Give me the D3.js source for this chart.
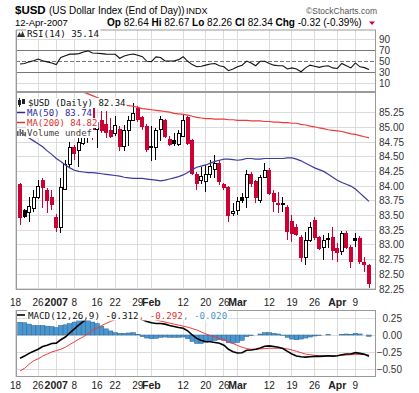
<!DOCTYPE html>
<html>
<head>
<meta charset="utf-8">
<script src="https://cdn.jsdelivr.net/npm/d3@7"></script>
<style>
  body { margin: 0; background: #fff; }
  svg text { font-family: "Liberation Sans", Arial, sans-serif; }
  svg text.mono { font-family: "DejaVu Sans Mono", monospace; }
</style>
</head>
<body>
<div id="chart"></div>
<script>
// Trading sessions on the chart (Dec 25, Jan 1, Jan 15, Feb 19 and Apr 6 have no bar)
const days = [
  "2006-12-19","2006-12-20","2006-12-21","2006-12-22","2006-12-26","2006-12-27","2006-12-28","2006-12-29",
  "2007-01-02","2007-01-03","2007-01-04","2007-01-05","2007-01-08","2007-01-09","2007-01-10","2007-01-11","2007-01-12",
  "2007-01-16","2007-01-17","2007-01-18","2007-01-19","2007-01-22","2007-01-23","2007-01-24","2007-01-25","2007-01-26",
  "2007-01-29","2007-01-30","2007-01-31","2007-02-01","2007-02-02","2007-02-05","2007-02-06","2007-02-07","2007-02-08",
  "2007-02-09","2007-02-12","2007-02-13","2007-02-14","2007-02-15","2007-02-16","2007-02-20","2007-02-21","2007-02-22",
  "2007-02-23","2007-02-26","2007-02-27","2007-02-28","2007-03-01","2007-03-02","2007-03-05","2007-03-06","2007-03-07",
  "2007-03-08","2007-03-09","2007-03-12","2007-03-13","2007-03-14","2007-03-15","2007-03-16","2007-03-19","2007-03-20",
  "2007-03-21","2007-03-22","2007-03-23","2007-03-26","2007-03-27","2007-03-28","2007-03-29","2007-03-30","2007-04-02",
  "2007-04-03","2007-04-04","2007-04-05","2007-04-09","2007-04-10","2007-04-11","2007-04-12"
];

const opens = [
  84.02, 83.58, 83.55, 83.61, 83.81, 84.10, 83.93, 83.81, 83.47, 83.29,
  83.95, 84.36, 84.66, 84.61, 84.73, 85.04, 85.33, 84.96, 85.11, 85.05,
  84.94, 84.90, 84.96, 84.68, 84.94, 85.12, 85.33, 85.16, 85.02, 84.68,
  84.65, 84.96, 85.11, 84.79, 84.78, 84.70, 84.85, 85.16, 84.77, 84.19,
  84.10, 84.07, 84.19, 84.28, 84.39, 84.02, 83.97, 83.53, 83.59, 83.81,
  83.80, 84.19, 84.07, 83.76, 84.15, 84.27, 83.88, 83.71, 83.71, 83.64,
  83.39, 83.30, 83.13, 82.78, 83.08, 83.42, 83.12, 82.96, 83.10, 83.13,
  82.94, 82.88, 83.20, 82.96, 83.10, 83.11, 82.70, 82.64
];
const highs = [
  84.05, 83.61, 83.81, 83.93, 84.10, 84.14, 83.97, 83.93, 83.52, 84.14,
  84.44, 84.75, 84.70, 84.82, 84.99, 85.36, 85.36, 85.16, 85.28, 85.28,
  85.16, 85.19, 85.02, 85.04, 85.19, 85.42, 85.36, 85.19, 85.06, 85.02,
  84.99, 85.19, 85.14, 84.85, 84.90, 84.96, 85.21, 85.19, 84.80, 84.24,
  84.32, 84.36, 84.44, 84.53, 84.44, 84.05, 84.00, 83.71, 83.81, 83.88,
  84.27, 84.24, 84.10, 84.19, 84.39, 84.31, 83.93, 83.90, 83.81, 83.68,
  83.51, 83.36, 83.17, 83.22, 83.39, 83.47, 83.15, 83.17, 83.20, 83.30,
  83.03, 83.23, 83.23, 83.00, 83.20, 83.15, 82.79, 82.67
];
const lows = [
  83.34, 83.45, 83.39, 83.56, 83.78, 83.63, 83.54, 83.59, 83.22, 83.20,
  83.93, 84.32, 84.44, 84.32, 84.70, 84.73, 84.78, 84.65, 84.90, 84.82,
  84.82, 84.85, 84.60, 84.60, 84.68, 85.11, 85.10, 84.96, 84.58, 84.43,
  84.44, 84.77, 84.82, 84.68, 84.68, 84.68, 84.83, 84.70, 84.19, 83.93,
  84.03, 83.90, 84.14, 84.14, 84.02, 83.93, 83.39, 83.49, 83.51, 83.71,
  83.63, 83.99, 83.71, 83.71, 84.14, 83.85, 83.56, 83.54, 83.56, 83.08,
  83.05, 83.15, 82.71, 82.66, 83.05, 83.08, 82.91, 82.74, 82.94, 82.74,
  82.71, 82.83, 82.92, 82.60, 82.96, 82.67, 82.53, 82.26
];
const closes = [
  83.47, 83.49, 83.65, 83.81, 84.00, 83.98, 83.76, 83.68, 83.29, 83.97,
  84.36, 84.66, 84.56, 84.75, 84.92, 85.30, 84.96, 85.08, 84.94, 84.92,
  84.85, 85.04, 84.68, 84.95, 85.12, 85.24, 85.13, 85.02, 84.62, 84.65,
  84.94, 85.13, 84.85, 84.70, 84.73, 84.90, 85.11, 84.73, 84.22, 84.05,
  84.17, 84.19, 84.34, 84.39, 84.07, 83.97, 83.50, 83.56, 83.73, 83.75,
  84.19, 84.05, 83.80, 84.14, 84.27, 83.88, 83.73, 83.68, 83.69, 83.22,
  83.20, 83.18, 82.78, 83.08, 83.30, 83.12, 82.94, 83.08, 83.09, 82.91,
  82.86, 83.20, 82.96, 82.71, 83.08, 82.71, 82.66, 82.34
];

const ma50 = [
  84.92, 84.87, 84.82, 84.77, 84.72, 84.67, 84.60, 84.54, 84.47, 84.42,
  84.36, 84.31, 84.27, 84.25, 84.24, 84.23, 84.23, 84.22, 84.21, 84.20,
  84.19, 84.18, 84.17, 84.15, 84.14, 84.13, 84.13, 84.13, 84.12, 84.11,
  84.10, 84.09, 84.10, 84.12, 84.14, 84.16, 84.19, 84.23, 84.28, 84.32,
  84.34, 84.36, 84.39, 84.42, 84.44, 84.46, 84.46, 84.45, 84.44, 84.45,
  84.47, 84.47, 84.46, 84.46, 84.47, 84.47, 84.47, 84.47, 84.47, 84.48,
  84.48, 84.46, 84.43, 84.39, 84.35, 84.31, 84.28, 84.25, 84.20, 84.15,
  84.10, 84.06, 84.03, 84.00, 83.95, 83.88, 83.81, 83.74
];
const ma200 = [
  85.95, 85.93, 85.91, 85.89, 85.87, 85.85, 85.83, 85.81, 85.78, 85.75,
  85.72, 85.69, 85.66, 85.63, 85.60, 85.57, 85.54, 85.51, 85.48, 85.46,
  85.44, 85.42, 85.40, 85.38, 85.37, 85.36, 85.34, 85.32, 85.31, 85.30,
  85.29, 85.28, 85.27, 85.26, 85.24, 85.23, 85.22, 85.21, 85.19, 85.17,
  85.16, 85.15, 85.15, 85.14, 85.14, 85.14, 85.13, 85.13, 85.12, 85.12,
  85.12, 85.11, 85.11, 85.11, 85.10, 85.10, 85.09, 85.09, 85.08, 85.08,
  85.07, 85.07, 85.05, 85.04, 85.02, 85.01, 84.99, 84.98, 84.96, 84.95,
  84.94, 84.93, 84.91, 84.89, 84.88, 84.86, 84.84, 84.82
];

const rsi = [
  45, 46, 49, 51, 54, 51, 49, 47, 44, 57,
  60, 63, 63, 64, 67, 69, 65, 64.5, 64, 63,
  62.7, 62.7, 55.5, 59.6, 62, 63.3, 61, 58.4, 50, 49.3,
  58, 57, 50.5, 50.5, 50.5, 53, 58.4, 50, 44, 40.2,
  41, 43, 45, 46, 42, 40, 33, 36, 40, 43,
  50.5, 47, 42, 50, 50, 46, 43, 42, 42, 36,
  38, 36, 31, 38, 43, 41, 39, 41, 42, 38,
  37, 46, 42, 38, 47, 40, 38.5, 35.14
];

const macd = [
  -0.343, -0.31, -0.27, -0.24, -0.21, -0.17, -0.15, -0.125, -0.12, -0.07,
  -0.03, 0.03, 0.09, 0.15, 0.20, 0.24, 0.26, 0.27, 0.27, 0.26,
  0.26, 0.26, 0.255, 0.26, 0.27, 0.28, 0.26, 0.225, 0.20, 0.18,
  0.17, 0.17, 0.16, 0.14, 0.125, 0.11, 0.10, 0.06, 0.0, -0.05,
  -0.08, -0.095, -0.10, -0.11, -0.12, -0.15, -0.21, -0.245, -0.265, -0.26,
  -0.225, -0.22, -0.21, -0.19, -0.165, -0.16, -0.17, -0.18, -0.20, -0.24,
  -0.28, -0.31, -0.32, -0.325, -0.32, -0.315, -0.315, -0.31, -0.305, -0.31,
  -0.305, -0.29, -0.28, -0.28, -0.26, -0.27, -0.285, -0.312
];
const signal = [
  -0.53, -0.49, -0.43, -0.38, -0.35, -0.31, -0.28, -0.25, -0.23, -0.21,
  -0.18, -0.14, -0.10, -0.06, -0.025, 0.02, 0.07, 0.10, 0.14, 0.17,
  0.20, 0.225, 0.23, 0.235, 0.24, 0.245, 0.25, 0.25, 0.245, 0.235,
  0.22, 0.205, 0.19, 0.175, 0.16, 0.145, 0.13, 0.115, 0.095, 0.075,
  0.045, 0.015, -0.01, -0.03, -0.05, -0.07, -0.095, -0.125, -0.155, -0.18,
  -0.20, -0.21, -0.21, -0.205, -0.20, -0.195, -0.195, -0.195, -0.195, -0.205,
  -0.22, -0.24, -0.26, -0.28, -0.29, -0.30, -0.305, -0.31, -0.31, -0.31,
  -0.305, -0.30, -0.295, -0.29, -0.285, -0.285, -0.285, -0.292
];

const priceTicks = [82.25, 82.5, 82.75, 83, 83.25, 83.5, 83.75, 84, 84.25, 84.5, 84.75, 85, 85.25];
const rsiTicks = [10, 30, 50, 70, 90];
const macdTicks = [0.25, 0, -0.25, -0.5];

const tickDates = ["2006-12-18","2006-12-26","2007-01-02","2007-01-08","2007-01-16","2007-01-22","2007-01-29",
  "2007-02-01","2007-02-12","2007-02-20","2007-02-26","2007-03-01","2007-03-12","2007-03-19","2007-03-26",
  "2007-04-02","2007-04-09"];
const tickLabels = ["18","26","2007","8","16","22","29","Feb","12","20","26","Mar","12","19","26","Apr","9"];
const tickBold = [false,false,true,false,false,false,false,true,false,false,false,true,false,false,false,true,false];

const quoteLabels = ["Op", "Hi", "Lo", "Cl", "Chg"];
const quoteValues = ["82.64", "82.67", "82.26", "82.34", "-0.32 (-0.39%)"];

// ---------------------------------------------------------------
const W = 419, H = 393;
const plotL = 16, plotR = 376;
const rsiBox = {top: 29.5, bottom: 92};
const priceBox = {top: 92, bottom: 290};
const macdBox = {top: 310, bottom: 377};
const RED = "#cc0033";
const GRID = "#dcdcdc";

const svg = d3.select("#chart").append("svg")
  .attr("width", W).attr("height", H)
  .style("display", "block");

const x = d3.scalePoint().domain(days).range([20, 369]);
// a tick dated before the first session sits one step left of it
const tickX = d => days.includes(d) ? x(d) : x(days[0]) - x.step();

const y = d3.scaleLinear().domain([82.25, 85.25]).range([288.8, 112.7]);
const yRsi = d3.scaleLinear().domain([10, 90]).range([83.3, 39.3]);
const yMacd = d3.scaleLinear().domain([-0.5, 0.25]).range([369, 318]);

// clip each panel
const defs = svg.append("defs");
[["clip-rsi", rsiBox], ["clip-price", priceBox], ["clip-macd", macdBox]].forEach(([id, b]) => {
  defs.append("clipPath").attr("id", id).append("rect")
    .attr("x", plotL).attr("y", b.top)
    .attr("width", plotR - plotL).attr("height", b.bottom - b.top);
});

function drawGrid(box, yScale, values) {
  const g = svg.append("g").attr("shape-rendering", "crispEdges");
  g.selectAll("line.v").data(tickDates).join("line")
    .attr("class", "v")
    .attr("x1", d => tickX(d)).attr("x2", d => tickX(d))
    .attr("y1", box.top).attr("y2", box.bottom)
    .attr("stroke", GRID);
  g.selectAll("line.h").data(values).join("line")
    .attr("class", "h")
    .attr("x1", plotL).attr("x2", plotR)
    .attr("y1", d => yScale(d)).attr("y2", d => yScale(d))
    .attr("stroke", GRID);
}

function drawBorder(box) {
  svg.append("rect")
    .attr("x", plotL + 0.5).attr("y", box.top + 0.5)
    .attr("width", plotR - plotL - 1).attr("height", box.bottom - box.top - 1)
    .attr("fill", "none").attr("stroke", "#9a9a9a");
}

function drawDateLabels(yBase) {
  svg.append("g").selectAll("text").data(tickDates).join("text")
    .attr("x", d => tickX(d)).attr("y", yBase)
    .attr("text-anchor", "middle")
    .style("font-size", (d, i) => tickBold[i] ? "10.5px" : "10px")
    .style("font-weight", (d, i) => tickBold[i] ? "bold" : "normal")
    .attr("fill", "#222")
    .text((d, i) => tickLabels[i]);
}

// legend line of coloured parts on a white patch
function legendLine(xPos, yBase, parts, size) {
  const g = svg.append("g");
  const t = g.append("text").attr("class", "mono")
    .attr("x", xPos).attr("y", yBase).style("font-size", size + "px");
  parts.forEach(p => t.append("tspan").attr("fill", p[1]).text(p[0]));
  const b = t.node().getBBox();
  g.insert("rect", "text")
    .attr("x", b.x - 1).attr("y", b.y).attr("width", b.width + 2).attr("height", b.height)
    .attr("fill", "#fff");
  return g;
}

// ---------------- header ----------------
const head = svg.append("g");
head.append("text").attr("x", 15).attr("y", 13.5)
  .style("font-size", "11.5px").style("font-weight", "bold").text("$USD");
head.append("text").attr("x", 49).attr("y", 13.5)
  .style("font-size", "10px").text("(US Dollar Index (End of Day))");
head.append("text").attr("x", 186).attr("y", 13.5)
  .style("font-size", "9px").text("INDX");
head.append("text").attr("x", 377).attr("y", 13.5).attr("text-anchor", "end")
  .style("font-size", "8.5px").attr("fill", "#555").text("\u00a9StockCharts.com");
head.append("text").attr("x", 15).attr("y", 25.5)
  .style("font-size", "9.5px").text("12-Apr-2007");
const quote = head.append("text").attr("x", 107).attr("y", 25.5).style("font-size", "10px");
quoteLabels.forEach((lab, i) => {
  quote.append("tspan").style("font-weight", "bold").text(lab);
  quote.append("tspan").text(" " + quoteValues[i] + (i < quoteLabels.length - 1 ? " " : ""));
});
head.append("path").attr("d", "M369,21.5L375,21.5L372,25Z").attr("fill", RED);

// ---------------- RSI panel ----------------
drawGrid(rsiBox, yRsi, [90, 10]);
const gR = svg.append("g").attr("clip-path", "url(#clip-rsi)");
gR.selectAll("line.lvl").data([70, 30]).join("line")
  .attr("x1", plotL).attr("x2", plotR)
  .attr("y1", d => Math.round(yRsi(d)) + 0.5).attr("y2", d => Math.round(yRsi(d)) + 0.5)
  .attr("stroke", "#777");
gR.append("line")
  .attr("x1", plotL).attr("x2", plotR)
  .attr("y1", Math.round(yRsi(50)) + 0.5).attr("y2", Math.round(yRsi(50)) + 0.5)
  .attr("stroke", "#777").attr("stroke-dasharray", "4,2");
gR.append("path").datum(rsi)
  .attr("d", d3.line().x((v, i) => x(days[i])).y(v => yRsi(v)))
  .attr("fill", "none").attr("stroke", "#111").attr("stroke-width", 1.1);
drawBorder(rsiBox);
svg.append("g").attr("transform", `translate(${plotR},0)`)
  .call(d3.axisRight(yRsi).tickValues(rsiTicks).tickSize(0).tickPadding(3))
  .call(g => g.select(".domain").remove())
  .selectAll("text").style("font-size", "10px").attr("fill", "#333");
const rsiLeg = legendLine(27, 37, [["RSI(14) 35.14", "#111"]], 9.2);
rsiLeg.append("path").attr("d", "M17,37L19.5,32L21,35L22.5,31L25,37Z").attr("fill", "#333");

// ---------------- price panel ----------------
drawGrid(priceBox, y, priceTicks);
const gP = svg.append("g").attr("clip-path", "url(#clip-price)");
const candles = days.map((d, i) => ({
  d, o: opens[i], h: highs[i], l: lows[i], c: closes[i],
  prev: i > 0 ? closes[i - 1] : opens[i]
}));
const candleColor = k => k.c < k.prev ? RED : "#000";
gP.selectAll("line.wick").data(candles).join("line")
  .attr("class", "wick")
  .attr("x1", k => x(k.d)).attr("x2", k => x(k.d))
  .attr("y1", k => y(k.h)).attr("y2", k => y(k.l))
  .attr("stroke", candleColor).attr("shape-rendering", "crispEdges");
gP.selectAll("rect.body").data(candles).join("rect")
  .attr("class", "body")
  .attr("x", k => x(k.d) - 1.5).attr("width", 3)
  .attr("y", k => y(Math.max(k.o, k.c)))
  .attr("height", k => Math.max(1, Math.abs(y(k.o) - y(k.c))))
  .attr("fill", k => k.c > k.o ? "#fff" : candleColor(k))
  .attr("stroke", candleColor).attr("shape-rendering", "crispEdges");

const priceLine = d3.line().x((v, i) => x(days[i])).y(v => y(v));
gP.append("path").datum(ma200).attr("d", priceLine)
  .attr("fill", "none").attr("stroke", "#ee3a3a").attr("stroke-width", 1.2);
gP.append("path").datum(ma50).attr("d", priceLine)
  .attr("fill", "none").attr("stroke", "#3b3b9e").attr("stroke-width", 1.2);
drawBorder(priceBox);
svg.append("g").attr("transform", `translate(${plotR},0)`)
  .call(d3.axisRight(y).tickValues(priceTicks).tickSize(0).tickPadding(3).tickFormat(d3.format(".2f")))
  .call(g => g.select(".domain").remove())
  .selectAll("text").style("font-size", "10px").attr("fill", "#333");

const leg1 = legendLine(28, 106, [["$USD (Daily) 82.34", "#111"]], 9);
leg1.append("rect").attr("x", 18).attr("y", 100).attr("width", 3).attr("height", 5).attr("fill", "#222");
leg1.append("rect").attr("x", 22).attr("y", 99).attr("width", 3).attr("height", 5).attr("fill", "#222");
leg1.append("line").attr("x1", 19.5).attr("x2", 19.5).attr("y1", 98).attr("y2", 107).attr("stroke", "#222");
const leg2 = legendLine(27, 116, [["MA(50) 83.74", "#2a2a9a"]], 9);
leg2.append("line").attr("x1", 17).attr("x2", 25).attr("y1", 112.5).attr("y2", 112.5).attr("stroke", "#2a2a9a").attr("stroke-width", 1.5);
const leg3 = legendLine(27, 126, [["MA(200) 84.82", "#e03030"]], 9);
leg3.append("line").attr("x1", 17).attr("x2", 25).attr("y1", 122.5).attr("y2", 122.5).attr("stroke", "#e03030").attr("stroke-width", 1.5);
const leg4 = legendLine(27, 136, [["Volume undef", "#444"]], 9);
[[17, 131], [19.5, 129], [22, 130], [24.5, 132]].forEach(([bx, by]) => {
  leg4.append("rect").attr("x", bx).attr("y", by).attr("width", 1.6).attr("height", 136 - by).attr("fill", "#666");
});

drawDateLabels(305.5);

// ---------------- MACD panel ----------------
drawGrid(macdBox, yMacd, macdTicks);
const gM = svg.append("g").attr("clip-path", "url(#clip-macd)");
const hist = macd.map((m, i) => m - signal[i]);
gM.selectAll("rect.hist").data(hist).join("rect")
  .attr("class", "hist")
  .attr("x", (h, i) => x(days[i]) - x.step() / 2).attr("width", x.step())
  .attr("y", h => Math.min(yMacd(0), yMacd(h)))
  .attr("height", h => Math.abs(yMacd(h) - yMacd(0)))
  .attr("fill", "#4a96cf").attr("stroke", "#2a6699").attr("stroke-width", 0.5);
const macdLine = d3.line().x((v, i) => x(days[i])).y(v => yMacd(v));
gM.append("path").datum(signal).attr("d", macdLine)
  .attr("fill", "none").attr("stroke", "#f03a3a").attr("stroke-width", 1);
gM.append("path").datum(macd).attr("d", macdLine)
  .attr("fill", "none").attr("stroke", "#000").attr("stroke-width", 1.6);
drawBorder(macdBox);
svg.append("g").attr("transform", `translate(${plotR},0)`)
  .call(d3.axisRight(yMacd).tickValues(macdTicks).tickSize(0).tickFormat(d3.format(".2f")))
  .call(g => g.select(".domain").remove())
  .selectAll("text").attr("x", 26).attr("text-anchor", "end")
  .style("font-size", "10px").attr("fill", "#333");
const macdLeg = legendLine(28, 318.5, [
  ["MACD(12,26,9) -0.312", "#111"], [", -0.292", "#e03030"], [", -0.020", "#4a96cf"]
], 9.2);
macdLeg.append("line").attr("x1", 17).attr("x2", 25).attr("y1", 315).attr("y2", 315)
  .attr("stroke", "#000").attr("stroke-width", 1.6);

drawDateLabels(388.5);
</script>
</body>
</html>
